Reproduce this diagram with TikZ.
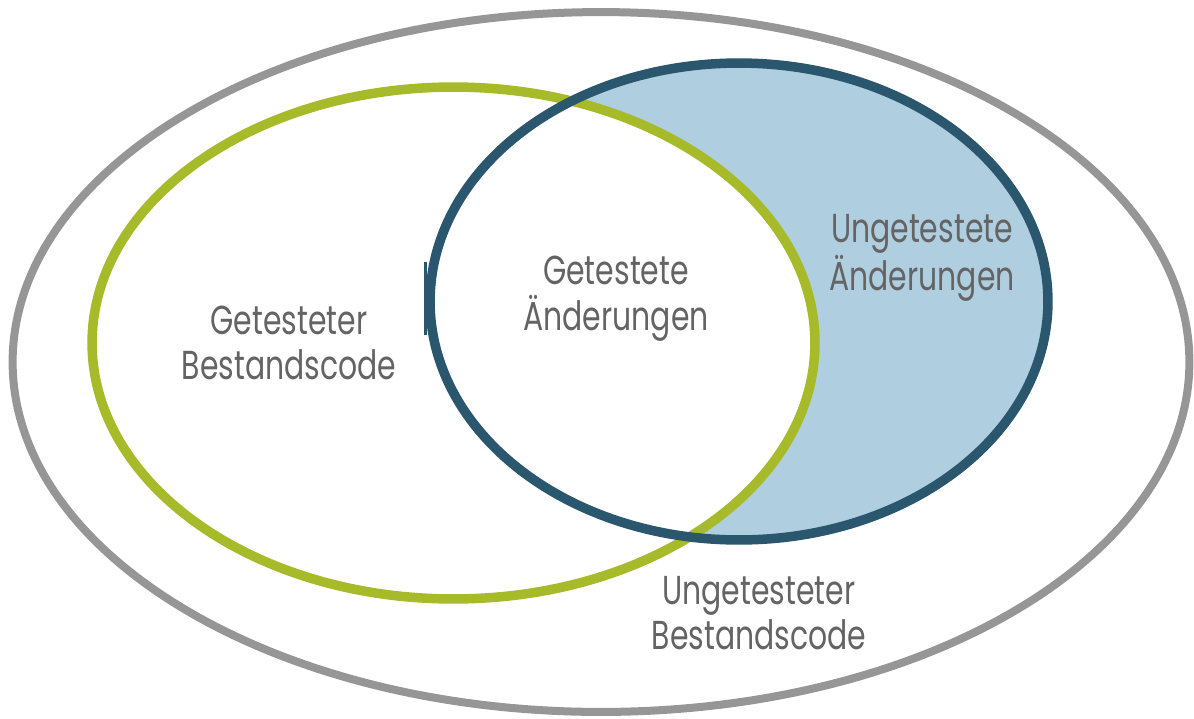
\documentclass[tikz,border=0pt]{standalone}
\usepackage{fontspec}
\setmainfont{Poppins}[FakeStretch=0.74]
\usetikzlibrary{shapes.geometric}
\definecolor{outergray}{RGB}{150,150,150}
\definecolor{testgreen}{RGB}{166,186,42}
\definecolor{changeblue}{RGB}{42,86,110}
\definecolor{changefill}{RGB}{175,206,224}
\definecolor{labelgray}{RGB}{100,100,100}

\begin{document}
\begin{tikzpicture}[x=0.02cm, y=-0.02cm,
  set/.style={ellipse, inner sep=0pt, outer sep=0pt},
  label/.style={align=center, text=labelgray, inner sep=0pt,
    font=\fontsize{23}{26}\selectfont}]
\useasboundingbox (0,0) rectangle (1194,718);
\node[set, draw=outergray, line width=0.16cm, minimum width=23.54cm, minimum height=14cm] (all) at (601,362) {};
\node[set, fill=changefill, minimum width=12.36cm, minimum height=9.54cm] (changesfill) at (739,301.5) {};
\node[set, fill=white, draw=testgreen, line width=0.19cm, minimum width=14.46cm, minimum height=10.24cm] (tested) at (453.5,343) {};
\node[set, draw=changeblue, line width=0.19cm, minimum width=12.36cm, minimum height=9.54cm] (changes) at (739,301.5) {};
\draw[changeblue, line width=0.07cm] (425.5,262) -- (425.5,335);
\node[label] (testedold) at (289,343) {Getesteter\\Bestandscode};
\node[label] (testednew) at (616,299) {Getestete\\Änderungen};
\node[label] (untestednew) at (922,258) {Ungetestete\\Änderungen};
\node[label] (untestedold) at (759,613) {Ungetesteter\\Bestandscode};
\end{tikzpicture}
\end{document}
